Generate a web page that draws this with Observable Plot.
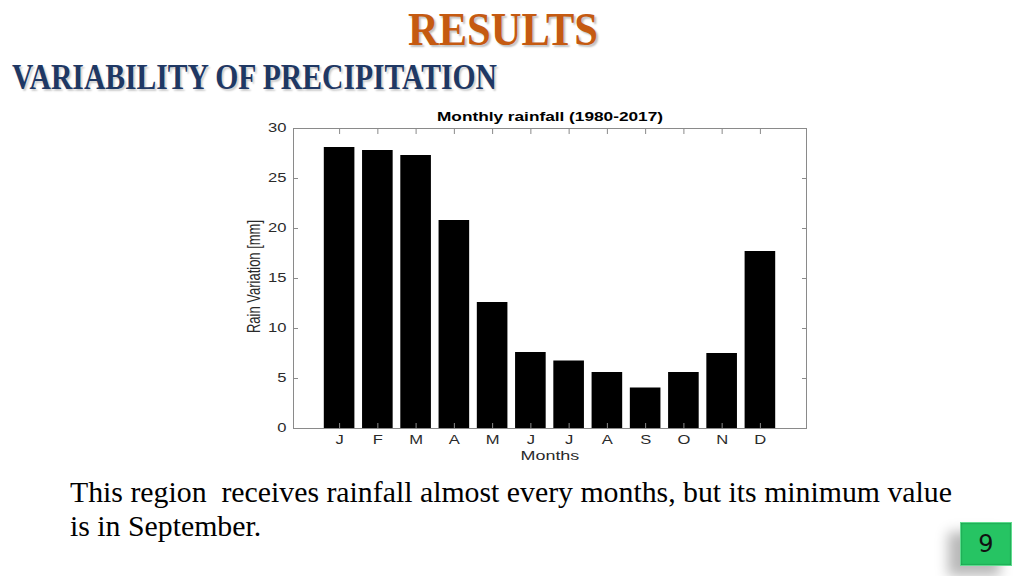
<!DOCTYPE html>
<html>
<head>
<meta charset="utf-8">
<script src="https://cdn.jsdelivr.net/npm/d3@7"></script>
<script src="https://cdn.jsdelivr.net/npm/@observablehq/plot@0.6"></script>
<style>
  html, body { margin: 0; padding: 0; background: #fff; width: 1024px; height: 576px; overflow: hidden; }
  #slide { position: relative; width: 1024px; height: 576px; }
  .abs { position: absolute; white-space: nowrap; line-height: 1; transform-origin: 0 0; }
  #results { font-family: "Liberation Serif", "DejaVu Serif", serif; font-weight: bold; color: #C55A11; font-size: 46px; left: 408px; top: 7px; text-shadow: 2px 2px 2px rgba(0,0,0,0.25); }
  #subtitle { font-family: "Liberation Serif", "DejaVu Serif", serif; font-weight: bold; color: #1F3864; font-size: 35px; left: 12px; top: 60px; text-shadow: 2px 2px 2px rgba(0,0,0,0.2); }
  .body { font-family: "Liberation Serif", "DejaVu Serif", serif; color: #000; font-size: 30px; left: 70px; }
  #page { position: absolute; left: 960px; top: 522px; width: 52px; height: 44px; background: #26C463; border: 1px solid #5fdc8e; box-sizing: border-box; box-shadow: -12px 10px 12px rgba(0,0,0,0.28), inset 0 0 2px rgba(0,0,0,0.4); font-family: "DejaVu Sans", sans-serif; font-size: 24px; color: #111; text-align: center; line-height: 42px; }
  #chart { position: absolute; left: 0; top: 0; }
</style>
</head>
<body>
<div id="slide">
  <div id="chart"></div>
  <div id="results" class="abs">RESULTS</div>
  <div id="subtitle" class="abs">VARIABILITY OF PRECIPITATION</div>
  <div id="line1" class="abs body" style="top:477px">This region&nbsp; receives rainfall almost every months, but its minimum value</div>
  <div id="line2" class="abs body" style="top:511px">is in September.</div>
  <div id="page">9</div>
</div>
<script>
// ---- data ----
const months = ["January","February","March","April","May","June","July","August","September","October","November","December"];
const monthLetters = ["J","F","M","A","M","J","J","A","S","O","N","D"];
const rainfall = [28.1, 27.8, 27.3, 20.8, 12.6, 7.6, 6.75, 5.6, 4.05, 5.6, 7.5, 17.7];
const yTicks = [0, 5, 10, 15, 20, 25, 30];
const chartTitle = "Monthly rainfall (1980-2017)";
const xLabel = "Months";
const yLabel = "Rain Variation [mm]";

const data = months.map((m, i) => ({month: m, value: rainfall[i]}));
const letterOf = new Map(months.map((m, i) => [m, monthLetters[i]]));

const axisColor = "#8a8a8a";
const textColor = "#2a2a2a";

const chart = Plot.plot({
  width: 1024,
  height: 576,
  marginLeft: 293,
  marginRight: 218,
  marginTop: 128,
  marginBottom: 148,
  style: {fontFamily: "'Liberation Sans', Arial, sans-serif", fontSize: "12px", color: textColor, background: "transparent"},
  x: {domain: months, paddingInner: 0.2, paddingOuter: 0.805, round: false, label: null},
  y: {domain: [0, 30], label: null},
  marks: [
    Plot.barY(data, {x: "month", y: "value", fill: "#000"}),
    Plot.frame({stroke: axisColor}),
    Plot.axisY({ticks: yTicks, tickSize: 0, tickPadding: 7, label: null, fill: textColor}),
    Plot.axisY({ticks: yTicks, tickSize: -5, text: null, label: null, stroke: axisColor}),
    Plot.axisY({anchor: "right", ticks: yTicks, tickSize: -5, text: null, label: null, stroke: axisColor}),
    Plot.axisX({tickSize: 0, tickPadding: 7, tickFormat: d => letterOf.get(d), label: null, fill: textColor}),
    Plot.axisX({tickSize: -5, text: null, label: null, stroke: axisColor}),
    Plot.axisX({anchor: "top", tickSize: -5, text: null, label: null, stroke: axisColor}),
    Plot.text([chartTitle], {frameAnchor: "top", dy: -16, fontWeight: "bold", fontSize: 12.5, fill: "#000"}),
    Plot.text([xLabel], {frameAnchor: "bottom", dy: 31, fontSize: 13, fill: textColor}),
    Plot.text([yLabel], {frameAnchor: "left", textAnchor: "middle", dx: -39, dy: -2, rotate: -90, fontSize: 13, fill: textColor})
  ]
});
document.getElementById("chart").appendChild(chart);

// the reference chart image is stretched horizontally: widen its text about each anchor
const K = 1.38;
chart.querySelectorAll("text").forEach(t => {
  const r = t.getBoundingClientRect();
  if (!r.width) return;
  const anchor = getComputedStyle(t).textAnchor;
  const rotated = (t.getAttribute("transform") || "").includes("rotate");
  const sx = rotated ? (r.left + r.right) / 2 : anchor === "end" ? r.right : anchor === "start" ? r.left : (r.left + r.right) / 2;
  const pm = t.parentNode.getScreenCTM();
  const px = (sx - pm.e) / pm.a;
  const prev = t.getAttribute("transform") || "";
  t.setAttribute("transform", `translate(${px},0) scale(${K},1) translate(${-px},0) ${prev}`);
});

// horizontally fit slide text to the widths seen in the reference
function fit(id, target) {
  const el = document.getElementById(id);
  const w = el.getBoundingClientRect().width;
  const s = target / w;
  el.style.transform = `scaleX(${s})`;
  return s;
}
fit("results", 190);
fit("subtitle", 485);
const s1 = fit("line1", 882);
document.getElementById("line2").style.transform = `scaleX(${s1})`;
</script>
</body>
</html>
